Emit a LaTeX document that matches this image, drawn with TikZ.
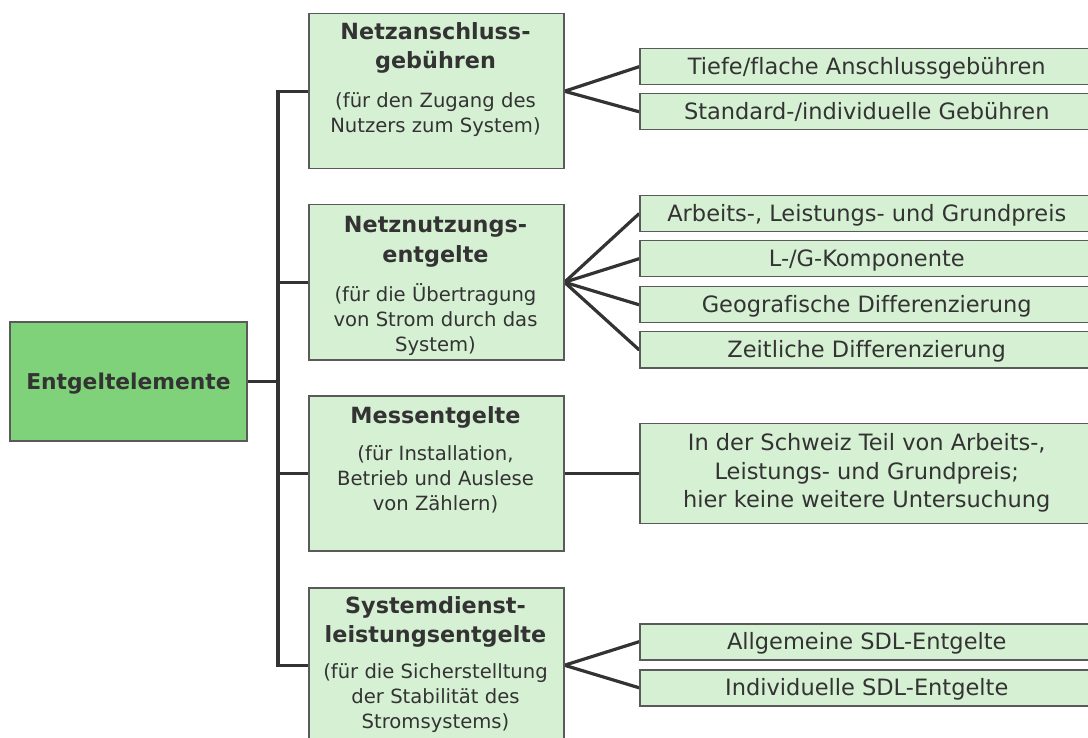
\documentclass[tikz,border=0pt]{standalone}
\usepackage{fontspec}
\setmainfont{DejaVu Sans}[Ligatures=CommonOff]
\definecolor{rootfill}{HTML}{80D27A}
\definecolor{boxfill}{HTML}{D6F0D3}
\definecolor{boxdraw}{HTML}{5A5A5A}
\definecolor{linecol}{HTML}{333333}
\definecolor{txt}{HTML}{333333}
\pgfdeclarelayer{bg}
\pgfsetlayers{bg,main}
\tikzset{
  rootbox/.style={draw=boxdraw, line width=1.5pt, fill=rootfill, inner sep=0pt,
    minimum width=237pt, minimum height=119pt, text=txt,
    font=\fontsize{21.8}{26}\selectfont\bfseries, text height=15.9pt, text depth=0pt},
  midbox/.style={draw=boxdraw, line width=1.5pt, fill=boxfill, inner sep=0pt,
    minimum width=255pt, minimum height=155pt, anchor=north west},
  titletext/.style={inner sep=0pt, align=center, text=txt, anchor=north,
    font=\fontsize{22.3}{29.5}\selectfont\bfseries},
  subtext/.style={inner sep=0pt, align=center, text=txt, anchor=north,
    font=\fontsize{19.6}{25}\selectfont},
  leafbox/.style={draw=boxdraw, line width=1.5pt, fill=boxfill, inner sep=0pt,
    minimum width=454pt, minimum height=36pt, anchor=north west, align=center,
    text=txt, font=\fontsize{22.5}{28.5}\selectfont, text height=16.4pt, text depth=0pt},
  trunkline/.style={draw=linecol, line width=3.3pt, line join=miter},
  fanline/.style={draw=linecol, line width=3.2pt, line cap=round},
}
\begin{document}
\begin{tikzpicture}[x=1pt,y=-1pt]
\useasboundingbox (0,0) rectangle (1088,738);
\clip (0,0) rectangle (1088,738);

% root
\node[rootbox] (R) at (128.5,381.5) {Entgeltelemente};

% middle boxes
\node[midbox] (A1) at (308,13) {};
\node[midbox] (A2) at (308,204) {};
\node[midbox] (A3) at (308,395) {};
\node[midbox] (A4) at (308,587) {};

\node[titletext] (A1t) at (435.5,22.3) {Netzanschluss-\\gebühren};
\node[subtext] (A1s) at (435.5,92.6) {(für den Zugang des\\Nutzers zum System)};
\node[titletext] (A2t) at (435.5,216.3) {Netznutzungs-\\entgelte};
\node[subtext] (A2s) at (435.5,283.6) {(für die Übertragung\\von Strom durch das\\System)};
\node[titletext] (A3t) at (435.5,406.3) {Messentgelte};
\node[subtext] (A3s) at (435.5,445.6) {(für Installation,\\Betrieb und Auslese\\von Zählern)};
\node[titletext] (A4t) at (435.5,596.3) {Systemdienst-\\leistungsentgelte};
\node[subtext] (A4s) at (435.5,663.6) {(für die Sicherstelltung\\der Stabilität des\\Stromsystems)};

% leaves
\node[leafbox] (B11) at (639,48) {Tiefe/flache Anschlussgebühren};
\node[leafbox] (B12) at (639,93) {Standard-/individuelle Gebühren};
\node[leafbox] (B21) at (639,195) {Arbeits-, Leistungs- und Grundpreis};
\node[leafbox] (B22) at (639,240) {L-/G-Komponente};
\node[leafbox] (B23) at (639,286) {Geografische Differenzierung};
\node[leafbox] (B24) at (639,331) {Zeitliche Differenzierung};
\node[leafbox, minimum height=100pt, text height=, text depth=] (B31) at (639,422.5)
  {In der Schweiz Teil von Arbeits-,\\Leistungs- und Grundpreis;\\hier keine weitere Untersuchung};
\node[leafbox] (B41) at (639,623) {Allgemeine SDL-Entgelte};
\node[leafbox] (B42) at (639,669) {Individuelle SDL-Entgelte};

\coordinate (tr) at (278,0);

\begin{pgfonlayer}{bg}
\draw[trunkline] (R.east) -- (R.east -| tr);
\draw[trunkline] (A1.west) -- (A1.west -| tr) -- (A4.west -| tr) -- (A4.west);
\draw[trunkline] (A2.west -| tr) -- (A2.west);
\draw[trunkline] (A3.west -| tr) -- (A3.west);
\draw[fanline] (A1.east) -- (B11.west);
\draw[fanline] (A1.east) -- (B12.west);
\draw[fanline] (A2.east) -- (B21.west);
\draw[fanline] (A2.east) -- (B22.west);
\draw[fanline] (A2.east) -- (B23.west);
\draw[fanline] (A2.east) -- (B24.west);
\draw[trunkline] (A3.east) -- (B31.west |- A3.east);
\draw[fanline] (A4.east) -- (B41.west);
\draw[fanline] (A4.east) -- (B42.west);
\end{pgfonlayer}
\end{tikzpicture}
\end{document}
